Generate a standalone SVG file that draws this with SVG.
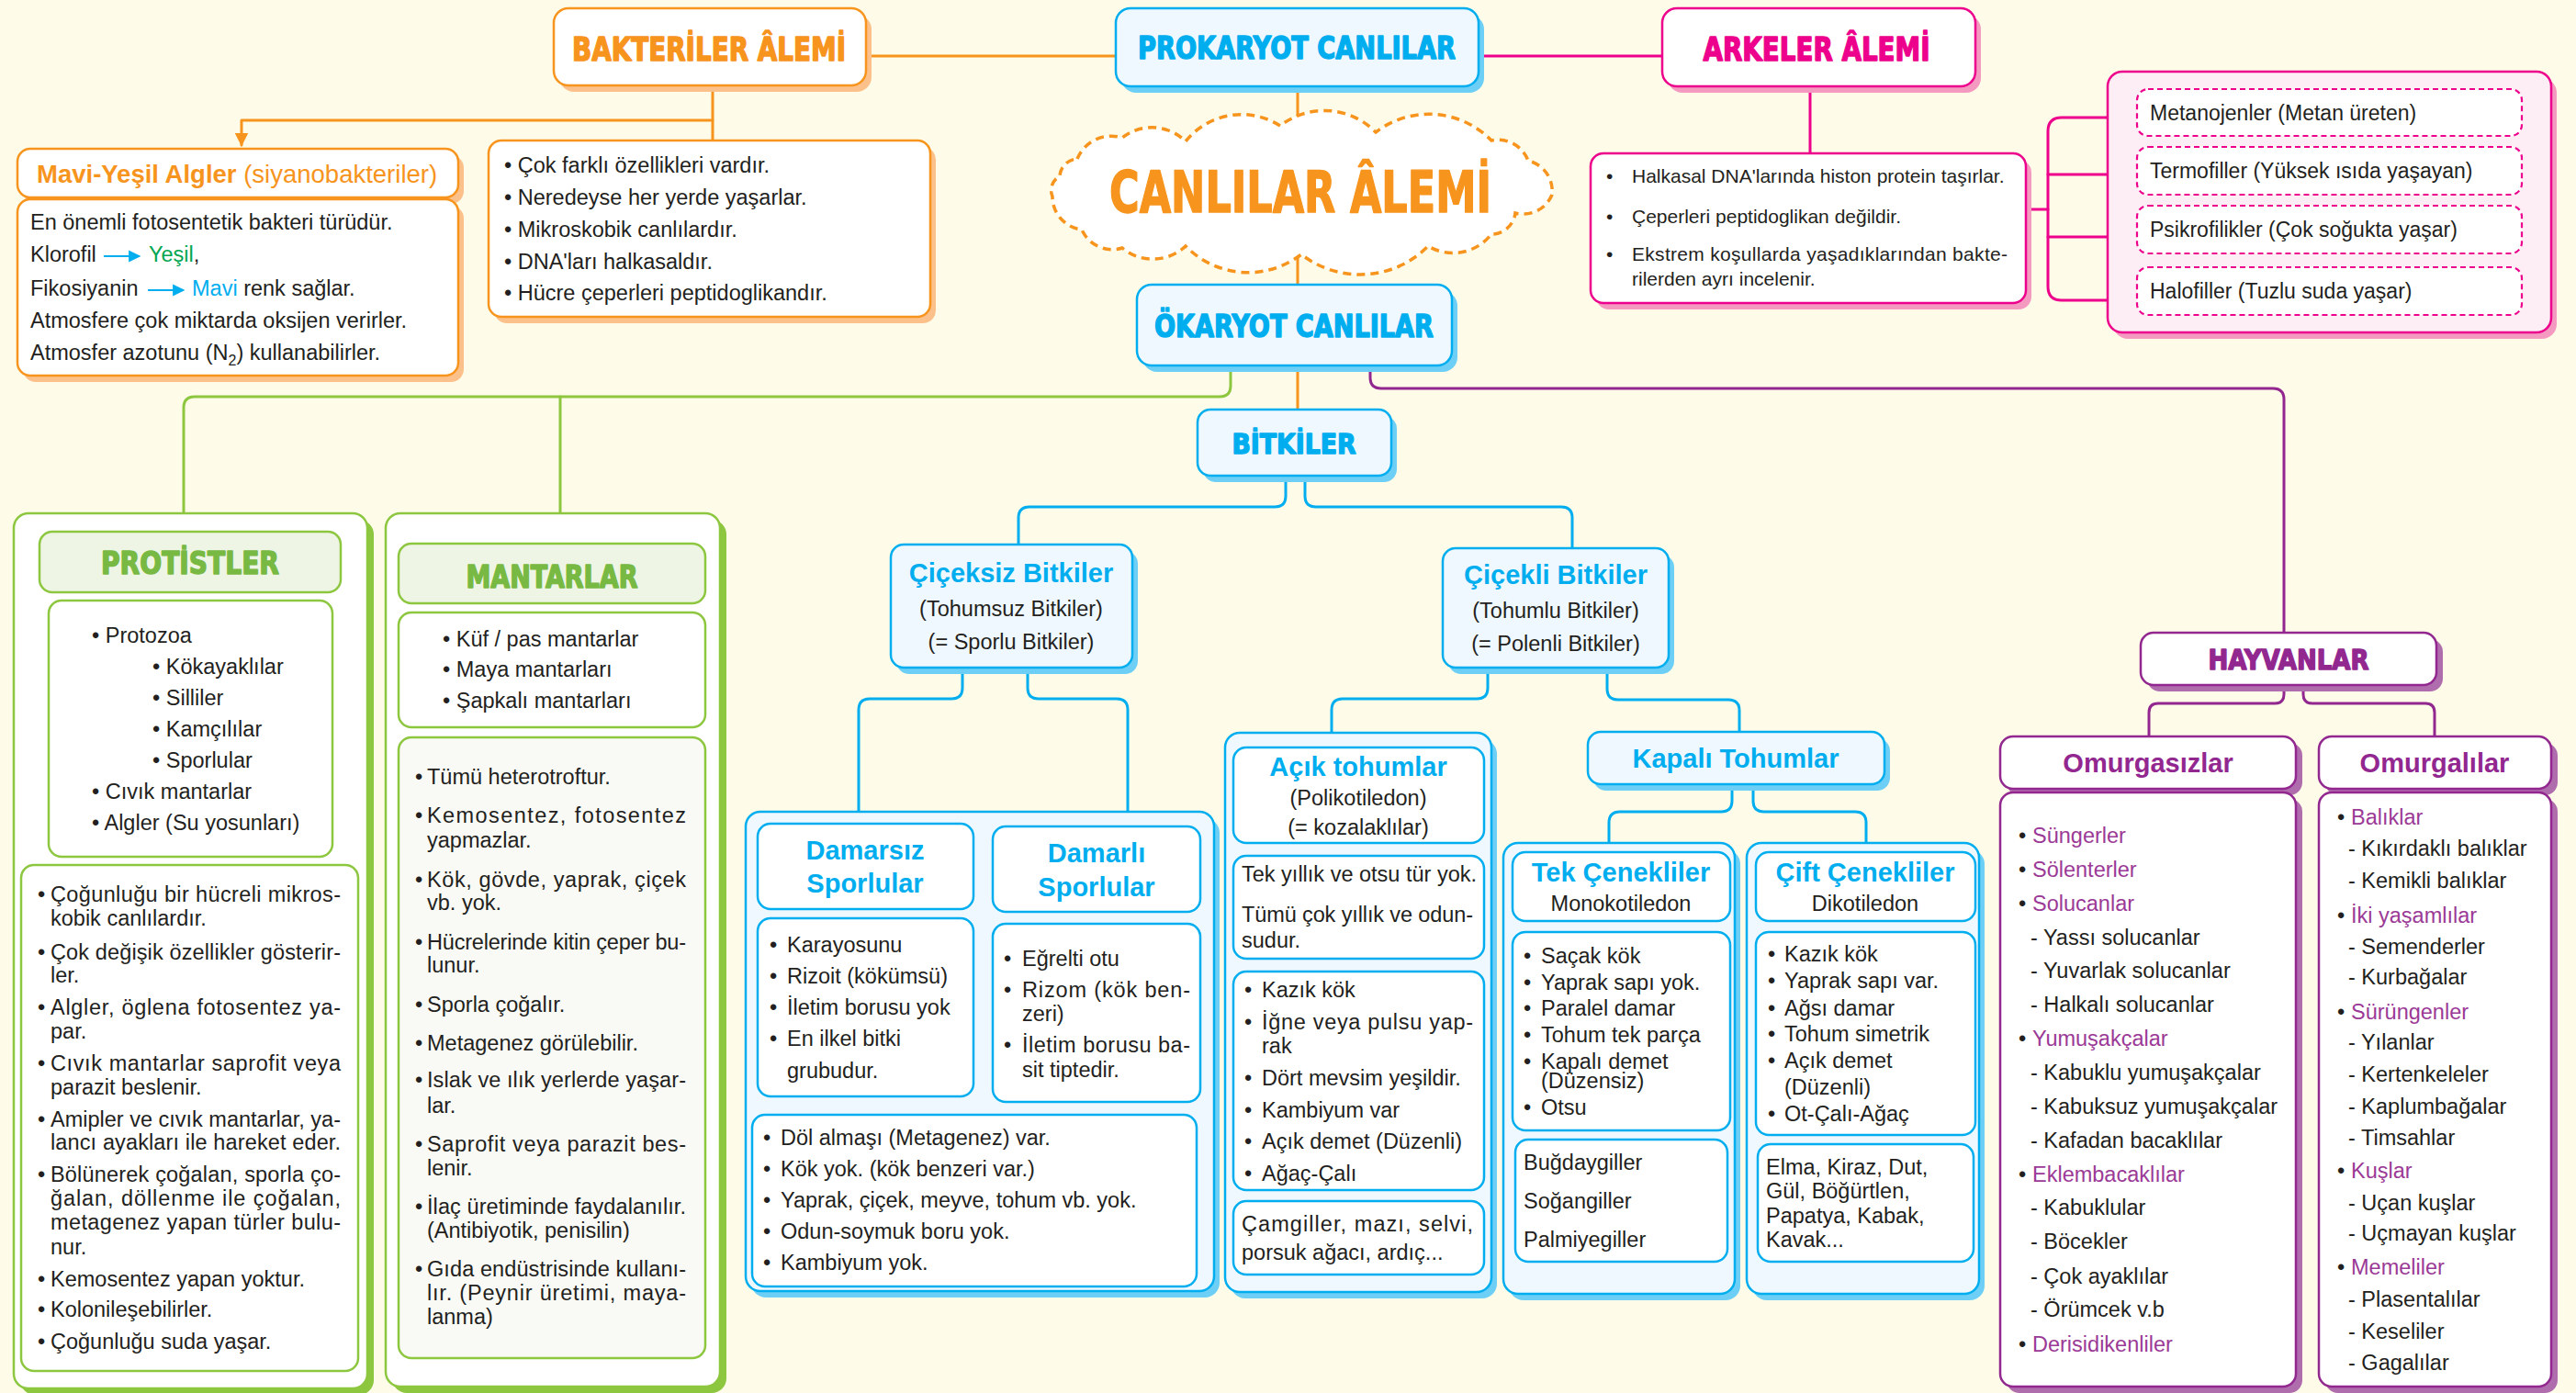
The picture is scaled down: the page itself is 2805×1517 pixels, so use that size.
<svg xmlns="http://www.w3.org/2000/svg" width="2805" height="1517" viewBox="0 0 2805 1517">
<defs>
<style>
.t{font-family:'Liberation Sans',Arial,Helvetica,sans-serif;font-size:23.5px;fill:#231F20}
.s21{font-size:21px}
.s23{font-size:23px}
.hb{font-family:'Liberation Sans',Arial,sans-serif;font-weight:bold;font-size:29px;fill:#00AEEF}
.hp{fill:#92278F}
.ttl{font-family:'DejaVu Sans Condensed','DejaVu Sans',sans-serif;font-weight:bold;stroke-width:1.4px;stroke-linejoin:round}
.mid{text-anchor:middle}
.c{fill:none;stroke-width:3;stroke-linecap:round;stroke-linejoin:round}
.co{stroke:#F7941D}.cm{stroke:#EC008C}.cg{stroke:#8DC63F}.cp{stroke:#92278F}.cb{stroke:#00AEEF}
.no{fill:#fff;stroke:#F7941D;stroke-width:2.5}
.so{fill:#FCC18B}
.nb{fill:#EFF8FE;stroke:#00AEEF;stroke-width:2.5}
.nbw{fill:#fff;stroke:#00AEEF;stroke-width:2.5}
.sb{fill:#6DCFF6}
.nm{fill:#fff;stroke:#EC008C;stroke-width:2.5}
.nmp{fill:#FDEEF5;stroke:#EC008C;stroke-width:2.5}
.nmd{fill:#fff;stroke:#EC008C;stroke-width:2.2;stroke-dasharray:6 4}
.sm{fill:#F49AC1}
.ng{fill:#fff;stroke:#8DC63F;stroke-width:2.5}
.ngl{fill:#EEF5E5;stroke:#8DC63F;stroke-width:2.5}
.ngo{fill:#F9FAF5;stroke:#8DC63F;stroke-width:2.5}
.sg{fill:#8DC63F}
.np{fill:#fff;stroke:#92278F;stroke-width:2.5}
.sp{fill:#B06DAE}
.pc{fill:#9B3A96}
.mh{font-family:'Liberation Sans',Arial,sans-serif;font-size:27.5px;fill:#F7941D}
</style>
<marker id="arrO" viewBox="0 0 10 10" refX="9" refY="5" markerWidth="5" markerHeight="5" orient="auto"><path d="M0,0 L10,5 L0,10 z" fill="#F7941D"/></marker>
<marker id="arrB" viewBox="0 0 10 10" refX="9" refY="5" markerWidth="6" markerHeight="6" orient="auto"><path d="M0,0 L10,5 L0,10 z" fill="#00AEEF"/></marker>
</defs>
<rect x="0" y="0" width="2805" height="1517" fill="#FEFCE8"/>

<g id="connectors">
<path class="c co" d="M943,61 H1215"/>
<path class="c co" d="M776,95 V153"/>
<path class="c co" d="M776,131 H263 V158" marker-end="url(#arrO)"/>
<path class="c co" d="M1413,95 V137"/>
<path class="c co" d="M1413,278 V310"/>
<path class="c co" d="M1413,398 V446"/>
<path class="c cm" d="M1611,61 H1809"/>
<path class="c cm" d="M1971,95 V167"/>
<path class="c cm" d="M2206,228 H2230"/>
<path class="c cm" d="M2295,128 H2245 Q2230,128 2230,143 V312 Q2230,327 2245,327 H2295"/>
<path class="c cm" d="M2230,190 H2295 M2230,258 H2295"/>
<path class="c cg" d="M1340,398 V420 Q1340,432 1328,432 H212 Q200,432 200,444 V559"/>
<path class="c cg" d="M610,432 V559"/>
<path class="c cp" d="M1492,398 V411 Q1492,423 1504,423 H2475 Q2487,423 2487,435 V689"/>
<path class="c cb" d="M1400,518 V540 Q1400,552 1388,552 H1121 Q1109,552 1109,564 V593"/>
<path class="c cb" d="M1421,518 V540 Q1421,552 1433,552 H1700 Q1712,552 1712,564 V597"/>
<path class="c cb" d="M1048,727 V749 Q1048,761 1036,761 H947 Q935,761 935,773 V884"/>
<path class="c cb" d="M1119,727 V749 Q1119,761 1131,761 H1216 Q1228,761 1228,773 V884"/>
<path class="c cb" d="M1620,727 V749 Q1620,761 1608,761 H1462 Q1450,761 1450,773 V798"/>
<path class="c cb" d="M1750,727 V750 Q1750,762 1762,762 H1882 Q1894,762 1894,774 V797"/>
<path class="c cb" d="M1886,854 V872 Q1886,884 1874,884 H1764 Q1752,884 1752,896 V918"/>
<path class="c cb" d="M1909,854 V872 Q1909,884 1921,884 H2020 Q2032,884 2032,896 V918"/>
<path class="c cp" d="M2487,746 V756 Q2487,766 2477,766 H2350 Q2340,766 2340,776 V802"/>
<path class="c cp" d="M2508,746 V756 Q2508,766 2518,766 H2641 Q2651,766 2651,776 V802"/>
</g>

<g id="bakteriler">
<rect class="so" x="609" y="16" width="340" height="84" rx="16"/>
<rect class="no" x="603" y="9" width="340" height="84" rx="16"/>
<text class="ttl mid" x="772" y="66" font-size="35" fill="#F7941D" stroke="#F7941D" textLength="298" lengthAdjust="spacingAndGlyphs">BAKTERİLER ÂLEMİ</text>
</g>

<g id="prokaryot">
<rect class="sb" x="1221" y="16" width="395" height="85" rx="16"/>
<rect class="nb" x="1215" y="9" width="395" height="85" rx="16"/>
<text class="ttl mid" x="1412" y="64" font-size="33" fill="#00AEEF" stroke="#00AEEF" textLength="346" lengthAdjust="spacingAndGlyphs">PROKARYOT CANLILAR</text>
</g>

<g id="arkeler">
<rect class="sm" x="1816" y="16" width="341" height="85" rx="16"/>
<rect class="nm" x="1810" y="9" width="341" height="85" rx="16"/>
<text class="ttl mid" x="1978" y="66" font-size="35" fill="#EC008C" stroke="#EC008C" textLength="247" lengthAdjust="spacingAndGlyphs">ARKELER ÂLEMİ</text>
</g>

<g id="canlilar-alemi">
<path d="M1173,173 A40,40 0 0 1 1222,150 A52,52 0 0 1 1291,154 A78,78 0 0 1 1394,137 A78,78 0 0 1 1498,144 A95,95 0 0 1 1624,153 A35,35 0 0 1 1664,175 A34,34 0 0 1 1690,212 A34,34 0 0 1 1650,232 A26,26 0 0 1 1624,255 A53,53 0 0 1 1555,268 A104,104 0 0 1 1417,277 A95,95 0 0 1 1291,268 A52,52 0 0 1 1222,270 A36,36 0 0 1 1178,250 A36,36 0 0 1 1146,214 A17,17 0 0 1 1154,192 A20,20 0 0 1 1173,173 Z" fill="#fff" stroke="#F7941D" stroke-width="3.5" stroke-dasharray="9 6"/>
<text class="ttl mid" x="1416" y="231" font-size="62" fill="#F7941D" stroke="#F7941D" stroke-width="2" textLength="416" lengthAdjust="spacingAndGlyphs">CANLILAR ÂLEMİ</text>
</g>

<g id="okaryot">
<rect class="sb" x="1244" y="317" width="343" height="88" rx="16"/>
<rect class="nb" x="1238" y="310" width="343" height="88" rx="16"/>
<text class="ttl mid" x="1409" y="367" font-size="33" fill="#00AEEF" stroke="#00AEEF" textLength="304" lengthAdjust="spacingAndGlyphs">ÖKARYOT CANLILAR</text>
</g>

<g id="mavi-yesil-algler">
<rect class="so" x="25" y="169" width="480" height="53" rx="14"/>
<rect class="no" x="19" y="162" width="480" height="53" rx="14"/>
<text class="mh" x="40" y="199"><tspan font-weight="bold">Mavi-Yeşil Algler</tspan> (siyanobakteriler)</text>
<rect class="so" x="25" y="224" width="480" height="192" rx="14"/>
<rect class="no" x="19" y="217" width="480" height="192" rx="14"/>
<text class="t" x="33" y="250">En önemli fotosentetik bakteri türüdür.</text>
<text class="t" x="33" y="285">Klorofil</text>
<line x1="113" y1="279" x2="152" y2="279" stroke="#00AEEF" stroke-width="2.2" marker-end="url(#arrB)"/>
<text class="t" x="162" y="285"><tspan fill="#00A651">Yeşil</tspan>,</text>
<text class="t" x="33" y="322">Fikosiyanin</text>
<line x1="161" y1="316" x2="200" y2="316" stroke="#00AEEF" stroke-width="2.2" marker-end="url(#arrB)"/>
<text class="t" x="209" y="322"><tspan fill="#00AEEF">Mavi</tspan> renk sağlar.</text>
<text class="t" x="33" y="357">Atmosfere çok miktarda oksijen verirler.</text>
<text class="t" x="33" y="392">Atmosfer azotunu (N<tspan dy="6" font-size="16">2</tspan><tspan dy="-6">) kullanabilirler.</tspan></text>
</g>

<g id="bakteri-ozellikleri">
<rect class="so" x="538" y="160" width="481" height="192" rx="14"/>
<rect class="no" x="532" y="153" width="481" height="192" rx="14"/>
<text class="t" x="549" y="188">• Çok farklı özellikleri vardır.</text>
<text class="t" x="549" y="223">• Neredeyse her yerde yaşarlar.</text>
<text class="t" x="549" y="258">• Mikroskobik canlılardır.</text>
<text class="t" x="549" y="293">• DNA'ları halkasaldır.</text>
<text class="t" x="549" y="327">• Hücre çeperleri peptidoglikandır.</text>
</g>

<g id="arkeler-ozellikleri">
<rect class="sm" x="1738" y="174" width="474" height="163" rx="14"/>
<rect class="nm" x="1732" y="167" width="474" height="163" rx="14"/>
<text class="t s21" x="1749" y="199">•</text><text class="t s21" x="1777" y="199">Halkasal DNA'larında histon protein taşırlar.</text>
<text class="t s21" x="1749" y="243">•</text><text class="t s21" x="1777" y="243">Çeperleri peptidoglikan değildir.</text>
<text class="t s21" x="1749" y="284">•</text><text class="t s21" x="1777" y="284" textLength="409" lengthAdjust="spacing">Ekstrem koşullarda yaşadıklarından bakte-</text>
<text class="t s21" x="1777" y="311">rilerden ayrı incelenir.</text>
</g>

<g id="arkeler-turleri">
<rect class="sm" x="2301" y="85" width="483" height="284" rx="16"/>
<rect class="nmp" x="2295" y="78" width="483" height="284" rx="16"/>
<rect class="nmd" x="2327" y="97" width="419" height="51" rx="12"/>
<rect class="nmd" x="2327" y="160" width="419" height="52" rx="12"/>
<rect class="nmd" x="2327" y="224" width="419" height="52" rx="12"/>
<rect class="nmd" x="2327" y="291" width="419" height="52" rx="12"/>
<text class="t s23" x="2341" y="131">Metanojenler (Metan üreten)</text>
<text class="t s23" x="2341" y="194">Termofiller (Yüksek ısıda yaşayan)</text>
<text class="t s23" x="2341" y="258">Psikrofilikler (Çok soğukta yaşar)</text>
<text class="t s23" x="2341" y="325">Halofiller (Tuzlu suda yaşar)</text>
</g>

<g id="protistler">
<rect class="sg" x="22" y="566" width="385" height="953" rx="16"/>
<rect class="ng" x="15" y="559" width="385" height="953" rx="16"/>
<rect class="ngl" x="43" y="579" width="328" height="66" rx="14"/>
<text class="ttl mid" x="207" y="625" font-size="33" fill="#78B943" stroke="#78B943" textLength="194" lengthAdjust="spacingAndGlyphs">PROTİSTLER</text>
<rect class="ng" x="53" y="654" width="309" height="279" rx="14"/>
<text class="t" x="100" y="700">• Protozoa</text>
<text class="t" x="166" y="734">• Kökayaklılar</text>
<text class="t" x="166" y="768">• Silliler</text>
<text class="t" x="166" y="802">• Kamçılılar</text>
<text class="t" x="166" y="836">• Sporlular</text>
<text class="t" x="100" y="870">• Cıvık mantarlar</text>
<text class="t" x="100" y="904">• Algler (Su yosunları)</text>
<rect class="ng" x="23" y="942" width="367" height="551" rx="14"/>
<text class="t" x="41" y="982">•</text><text class="t" x="55" y="982" textLength="316" lengthAdjust="spacing">Çoğunluğu bir hücreli mikros-</text>
<text class="t" x="55" y="1008">kobik canlılardır.</text>
<text class="t" x="41" y="1045">•</text><text class="t" x="55" y="1045" textLength="316" lengthAdjust="spacing">Çok değişik özellikler gösterir-</text>
<text class="t" x="55" y="1070">ler.</text>
<text class="t" x="41" y="1105">•</text><text class="t" x="55" y="1105" textLength="316" lengthAdjust="spacing">Algler, öglena fotosentez ya-</text>
<text class="t" x="55" y="1131">par.</text>
<text class="t" x="41" y="1166">•</text><text class="t" x="55" y="1166" textLength="316" lengthAdjust="spacing">Cıvık mantarlar saprofit veya</text>
<text class="t" x="55" y="1192">parazit beslenir.</text>
<text class="t" x="41" y="1227">•</text><text class="t" x="55" y="1227" textLength="316" lengthAdjust="spacing">Amipler ve cıvık mantarlar, ya-</text>
<text class="t" x="55" y="1252" textLength="316" lengthAdjust="spacing">lancı ayakları ile hareket eder.</text>
<text class="t" x="41" y="1287">•</text><text class="t" x="55" y="1287" textLength="316" lengthAdjust="spacing">Bölünerek çoğalan, sporla ço-</text>
<text class="t" x="55" y="1313" textLength="316" lengthAdjust="spacing">ğalan, döllenme ile çoğalan,</text>
<text class="t" x="55" y="1339" textLength="316" lengthAdjust="spacing">metagenez yapan türler bulu-</text>
<text class="t" x="55" y="1366">nur.</text>
<text class="t" x="41" y="1401">•</text><text class="t" x="55" y="1401">Kemosentez yapan yoktur.</text>
<text class="t" x="41" y="1434">•</text><text class="t" x="55" y="1434">Kolonileşebilirler.</text>
<text class="t" x="41" y="1469">•</text><text class="t" x="55" y="1469">Çoğunluğu suda yaşar.</text>
</g>

<g id="mantarlar">
<rect class="sg" x="427" y="566" width="364" height="951" rx="16"/>
<rect class="ng" x="420" y="559" width="364" height="951" rx="16"/>
<rect class="ngl" x="434" y="592" width="334" height="65" rx="14"/>
<text class="ttl mid" x="601" y="640" font-size="33" fill="#78B943" stroke="#78B943" textLength="187" lengthAdjust="spacingAndGlyphs">MANTARLAR</text>
<rect class="ng" x="434" y="667" width="334" height="125" rx="14"/>
<text class="t" x="482" y="704">• Küf / pas mantarlar</text>
<text class="t" x="482" y="737">• Maya mantarları</text>
<text class="t" x="482" y="771">• Şapkalı mantarları</text>
<rect class="ngo" x="434" y="803" width="334" height="676" rx="14"/>
<text class="t" x="452" y="854">•</text><text class="t" x="465" y="854">Tümü heterotroftur.</text>
<text class="t" x="452" y="896">•</text><text class="t" x="465" y="896" textLength="282" lengthAdjust="spacing">Kemosentez, fotosentez</text>
<text class="t" x="465" y="923">yapmazlar.</text>
<text class="t" x="452" y="966">•</text><text class="t" x="465" y="966" textLength="282" lengthAdjust="spacing">Kök, gövde, yaprak, çiçek</text>
<text class="t" x="465" y="991">vb. yok.</text>
<text class="t" x="452" y="1034">•</text><text class="t" x="465" y="1034" textLength="282" lengthAdjust="spacing">Hücrelerinde kitin çeper bu-</text>
<text class="t" x="465" y="1059">lunur.</text>
<text class="t" x="452" y="1102">•</text><text class="t" x="465" y="1102">Sporla çoğalır.</text>
<text class="t" x="452" y="1144">•</text><text class="t" x="465" y="1144">Metagenez görülebilir.</text>
<text class="t" x="452" y="1184">•</text><text class="t" x="465" y="1184" textLength="282" lengthAdjust="spacing">Islak ve ılık yerlerde yaşar-</text>
<text class="t" x="465" y="1212">lar.</text>
<text class="t" x="452" y="1254">•</text><text class="t" x="465" y="1254" textLength="282" lengthAdjust="spacing">Saprofit veya parazit bes-</text>
<text class="t" x="465" y="1280">lenir.</text>
<text class="t" x="452" y="1322">•</text><text class="t" x="465" y="1322" textLength="282" lengthAdjust="spacing">İlaç üretiminde faydalanılır.</text>
<text class="t" x="465" y="1348">(Antibiyotik, penisilin)</text>
<text class="t" x="452" y="1390">•</text><text class="t" x="465" y="1390" textLength="282" lengthAdjust="spacing">Gıda endüstrisinde kullanı-</text>
<text class="t" x="465" y="1416" textLength="282" lengthAdjust="spacing">lır. (Peynir üretimi, maya-</text>
<text class="t" x="465" y="1442">lanma)</text>
</g>

<g id="bitkiler">
<rect class="sb" x="1310" y="453" width="211" height="72" rx="14"/>
<rect class="nb" x="1304" y="446" width="211" height="72" rx="14"/>
<text class="ttl mid" x="1409" y="494" font-size="31" fill="#00AEEF" stroke="#00AEEF" textLength="135" lengthAdjust="spacingAndGlyphs">BİTKİLER</text>
</g>

<g id="ciceksiz-bitkiler">
<rect class="sb" x="976" y="600" width="263" height="134" rx="14"/>
<rect class="nb" x="970" y="593" width="263" height="134" rx="14"/>
<text class="hb mid" x="1101" y="634">Çiçeksiz Bitkiler</text>
<text class="t mid" x="1101" y="671">(Tohumsuz Bitkiler)</text>
<text class="t mid" x="1101" y="707">(= Sporlu Bitkiler)</text>
</g>

<g id="cicekli-bitkiler">
<rect class="sb" x="1577" y="604" width="246" height="130" rx="14"/>
<rect class="nb" x="1571" y="597" width="246" height="130" rx="14"/>
<text class="hb mid" x="1694" y="636">Çiçekli Bitkiler</text>
<text class="t mid" x="1694" y="673">(Tohumlu Bitkiler)</text>
<text class="t mid" x="1694" y="709">(= Polenli Bitkiler)</text>
</g>

<g id="sporlular">
<rect class="sb" x="818" y="891" width="510" height="522" rx="16"/>
<rect class="nb" x="812" y="884" width="510" height="522" rx="16"/>
<rect class="nbw" x="825" y="897" width="235" height="93" rx="14"/>
<text class="hb mid" x="942" y="936">Damarsız</text>
<text class="hb mid" x="942" y="972">Sporlular</text>
<rect class="nbw" x="1081" y="900" width="226" height="93" rx="14"/>
<text class="hb mid" x="1194" y="939">Damarlı</text>
<text class="hb mid" x="1194" y="976">Sporlular</text>
<rect class="nbw" x="825" y="1000" width="235" height="194" rx="14"/>
<text class="t" x="838" y="1037">•</text><text class="t" x="857" y="1037">Karayosunu</text>
<text class="t" x="838" y="1071">•</text><text class="t" x="857" y="1071">Rizoit (kökümsü)</text>
<text class="t" x="838" y="1105">•</text><text class="t" x="857" y="1105">İletim borusu yok</text>
<text class="t" x="838" y="1139">•</text><text class="t" x="857" y="1139">En ilkel bitki</text>
<text class="t" x="857" y="1174">grubudur.</text>
<rect class="nbw" x="1081" y="1006" width="226" height="194" rx="14"/>
<text class="t" x="1093" y="1052">•</text><text class="t" x="1113" y="1052">Eğrelti otu</text>
<text class="t" x="1093" y="1086">•</text><text class="t" x="1113" y="1086" textLength="183" lengthAdjust="spacing">Rizom (kök ben-</text>
<text class="t" x="1113" y="1112">zeri)</text>
<text class="t" x="1093" y="1146">•</text><text class="t" x="1113" y="1146" textLength="183" lengthAdjust="spacing">İletim borusu ba-</text>
<text class="t" x="1113" y="1173">sit tiptedir.</text>
<rect class="nbw" x="819" y="1214" width="484" height="187" rx="14"/>
<text class="t" x="831" y="1247">•</text><text class="t" x="850" y="1247">Döl almaşı (Metagenez) var.</text>
<text class="t" x="831" y="1281">•</text><text class="t" x="850" y="1281">Kök yok. (kök benzeri var.)</text>
<text class="t" x="831" y="1315">•</text><text class="t" x="850" y="1315">Yaprak, çiçek, meyve, tohum vb. yok.</text>
<text class="t" x="831" y="1349">•</text><text class="t" x="850" y="1349">Odun-soymuk boru yok.</text>
<text class="t" x="831" y="1383">•</text><text class="t" x="850" y="1383">Kambiyum yok.</text>
</g>

<g id="acik-tohumlar">
<rect class="sb" x="1340" y="805" width="290" height="609" rx="16"/>
<rect class="nb" x="1334" y="798" width="290" height="609" rx="16"/>
<rect class="nbw" x="1343" y="814" width="273" height="104" rx="14"/>
<text class="hb mid" x="1479" y="845">Açık tohumlar</text>
<text class="t mid" x="1479" y="877">(Polikotiledon)</text>
<text class="t mid" x="1479" y="909">(= kozalaklılar)</text>
<rect class="nbw" x="1343" y="932" width="273" height="112" rx="14"/>
<text class="t" x="1352" y="960">Tek yıllık ve otsu tür yok.</text>
<text class="t" x="1352" y="1004" textLength="252" lengthAdjust="spacing">Tümü çok yıllık ve odun-</text>
<text class="t" x="1352" y="1032">sudur.</text>
<rect class="nbw" x="1343" y="1058" width="273" height="238" rx="14"/>
<text class="t" x="1355" y="1086">•</text><text class="t" x="1374" y="1086">Kazık kök</text>
<text class="t" x="1355" y="1121">•</text><text class="t" x="1374" y="1121" textLength="230" lengthAdjust="spacing">İğne veya pulsu yap-</text>
<text class="t" x="1374" y="1147">rak</text>
<text class="t" x="1355" y="1182">•</text><text class="t" x="1374" y="1182">Dört mevsim yeşildir.</text>
<text class="t" x="1355" y="1217">•</text><text class="t" x="1374" y="1217">Kambiyum var</text>
<text class="t" x="1355" y="1251">•</text><text class="t" x="1374" y="1251">Açık demet (Düzenli)</text>
<text class="t" x="1355" y="1286">•</text><text class="t" x="1374" y="1286">Ağaç-Çalı</text>
<rect class="nbw" x="1343" y="1308" width="273" height="80" rx="14"/>
<text class="t" x="1352" y="1341" textLength="252" lengthAdjust="spacing">Çamgiller, mazı, selvi,</text>
<text class="t" x="1352" y="1372">porsuk ağacı, ardıç...</text>
</g>

<g id="kapali-tohumlar">
<rect class="sb" x="1735" y="804" width="323" height="57" rx="14"/>
<rect class="nb" x="1729" y="797" width="323" height="57" rx="14"/>
<text class="hb mid" x="1890" y="836">Kapalı Tohumlar</text>
</g>

<g id="tek-cenekliler">
<rect class="sb" x="1643" y="925" width="252" height="491" rx="16"/>
<rect class="nb" x="1637" y="918" width="252" height="491" rx="16"/>
<rect class="nbw" x="1647" y="928" width="237" height="75" rx="14"/>
<text class="hb mid" x="1765" y="960">Tek Çenekliler</text>
<text class="t mid" x="1765" y="992">Monokotiledon</text>
<rect class="nbw" x="1647" y="1015" width="237" height="216" rx="14"/>
<text class="t" x="1659" y="1049">•</text><text class="t" x="1678" y="1049">Saçak kök</text>
<text class="t" x="1659" y="1078">•</text><text class="t" x="1678" y="1078">Yaprak sapı yok.</text>
<text class="t" x="1659" y="1106">•</text><text class="t" x="1678" y="1106">Paralel damar</text>
<text class="t" x="1659" y="1135">•</text><text class="t" x="1678" y="1135">Tohum tek parça</text>
<text class="t" x="1659" y="1164">•</text><text class="t" x="1678" y="1164">Kapalı demet</text>
<text class="t" x="1678" y="1185">(Düzensiz)</text>
<text class="t" x="1659" y="1214">•</text><text class="t" x="1678" y="1214">Otsu</text>
<rect class="nbw" x="1650" y="1241" width="231" height="133" rx="14"/>
<text class="t" x="1659" y="1274">Buğdaygiller</text>
<text class="t" x="1659" y="1316">Soğangiller</text>
<text class="t" x="1659" y="1358">Palmiyegiller</text>
</g>

<g id="cift-cenekliler">
<rect class="sb" x="1908" y="925" width="253" height="491" rx="16"/>
<rect class="nb" x="1902" y="918" width="253" height="491" rx="16"/>
<rect class="nbw" x="1912" y="928" width="239" height="75" rx="14"/>
<text class="hb mid" x="2031" y="960">Çift Çenekliler</text>
<text class="t mid" x="2031" y="992">Dikotiledon</text>
<rect class="nbw" x="1912" y="1015" width="239" height="221" rx="14"/>
<text class="t" x="1925" y="1047">•</text><text class="t" x="1943" y="1047">Kazık kök</text>
<text class="t" x="1925" y="1076">•</text><text class="t" x="1943" y="1076">Yaprak sapı var.</text>
<text class="t" x="1925" y="1106">•</text><text class="t" x="1943" y="1106">Ağsı damar</text>
<text class="t" x="1925" y="1134">•</text><text class="t" x="1943" y="1134">Tohum simetrik</text>
<text class="t" x="1925" y="1163">•</text><text class="t" x="1943" y="1163">Açık demet</text>
<text class="t" x="1943" y="1192">(Düzenli)</text>
<text class="t" x="1925" y="1221">•</text><text class="t" x="1943" y="1221">Ot-Çalı-Ağaç</text>
<rect class="nbw" x="1914" y="1246" width="235" height="128" rx="14"/>
<text class="t" x="1923" y="1279">Elma, Kiraz, Dut,</text>
<text class="t" x="1923" y="1305">Gül, Böğürtlen,</text>
<text class="t" x="1923" y="1332">Papatya, Kabak,</text>
<text class="t" x="1923" y="1358">Kavak...</text>
</g>

<g id="hayvanlar">
<rect class="sp" x="2338" y="696" width="322" height="57" rx="14"/>
<rect class="np" x="2331" y="689" width="322" height="57" rx="14"/>
<text class="ttl mid" x="2492" y="729" font-size="31" fill="#92278F" stroke="#92278F" textLength="175" lengthAdjust="spacingAndGlyphs">HAYVANLAR</text>
</g>

<g id="omurgasizlar">
<rect class="sp" x="2185" y="809" width="322" height="57" rx="14"/>
<rect class="np" x="2178" y="802" width="322" height="57" rx="14"/>
<text class="hb hp mid" x="2339" y="841">Omurgasızlar</text>
<rect class="sp" x="2185" y="870" width="322" height="647" rx="14"/>
<rect class="np" x="2178" y="863" width="322" height="647" rx="14"/>
<text class="t" x="2198" y="918">•</text><text class="t pc" x="2213" y="918">Süngerler</text>
<text class="t" x="2198" y="955">•</text><text class="t pc" x="2213" y="955">Sölenterler</text>
<text class="t" x="2198" y="992">•</text><text class="t pc" x="2213" y="992">Solucanlar</text>
<text class="t" x="2211" y="1029">- Yassı solucanlar</text>
<text class="t" x="2211" y="1065">- Yuvarlak solucanlar</text>
<text class="t" x="2211" y="1102">- Halkalı solucanlar</text>
<text class="t" x="2198" y="1139">•</text><text class="t pc" x="2213" y="1139">Yumuşakçalar</text>
<text class="t" x="2211" y="1176">- Kabuklu yumuşakçalar</text>
<text class="t" x="2211" y="1213">- Kabuksuz yumuşakçalar</text>
<text class="t" x="2211" y="1250">- Kafadan bacaklılar</text>
<text class="t" x="2198" y="1287">•</text><text class="t pc" x="2213" y="1287">Eklembacaklılar</text>
<text class="t" x="2211" y="1323">- Kabuklular</text>
<text class="t" x="2211" y="1360">- Böcekler</text>
<text class="t" x="2211" y="1398">- Çok ayaklılar</text>
<text class="t" x="2211" y="1434">- Örümcek v.b</text>
<text class="t" x="2198" y="1472">•</text><text class="t pc" x="2213" y="1472">Derisidikenliler</text>
</g>

<g id="omurgalilar">
<rect class="sp" x="2532" y="809" width="253" height="57" rx="14"/>
<rect class="np" x="2525" y="802" width="253" height="57" rx="14"/>
<text class="hb hp mid" x="2651" y="841">Omurgalılar</text>
<rect class="sp" x="2532" y="870" width="253" height="647" rx="14"/>
<rect class="np" x="2525" y="863" width="253" height="647" rx="14"/>
<text class="t" x="2545" y="898">•</text><text class="t pc" x="2560" y="898">Balıklar</text>
<text class="t" x="2557" y="932">- Kıkırdaklı balıklar</text>
<text class="t" x="2557" y="967">- Kemikli balıklar</text>
<text class="t" x="2545" y="1005">•</text><text class="t pc" x="2560" y="1005">İki yaşamlılar</text>
<text class="t" x="2557" y="1039">- Semenderler</text>
<text class="t" x="2557" y="1072">- Kurbağalar</text>
<text class="t" x="2545" y="1110">•</text><text class="t pc" x="2560" y="1110">Sürüngenler</text>
<text class="t" x="2557" y="1143">- Yılanlar</text>
<text class="t" x="2557" y="1178">- Kertenkeleler</text>
<text class="t" x="2557" y="1213">- Kaplumbağalar</text>
<text class="t" x="2557" y="1247">- Timsahlar</text>
<text class="t" x="2545" y="1283">•</text><text class="t pc" x="2560" y="1283">Kuşlar</text>
<text class="t" x="2557" y="1318">- Uçan kuşlar</text>
<text class="t" x="2557" y="1351">- Uçmayan kuşlar</text>
<text class="t" x="2545" y="1388">•</text><text class="t pc" x="2560" y="1388">Memeliler</text>
<text class="t" x="2557" y="1423">- Plasentalılar</text>
<text class="t" x="2557" y="1458">- Keseliler</text>
<text class="t" x="2557" y="1492">- Gagalılar</text>
</g>
</svg>
